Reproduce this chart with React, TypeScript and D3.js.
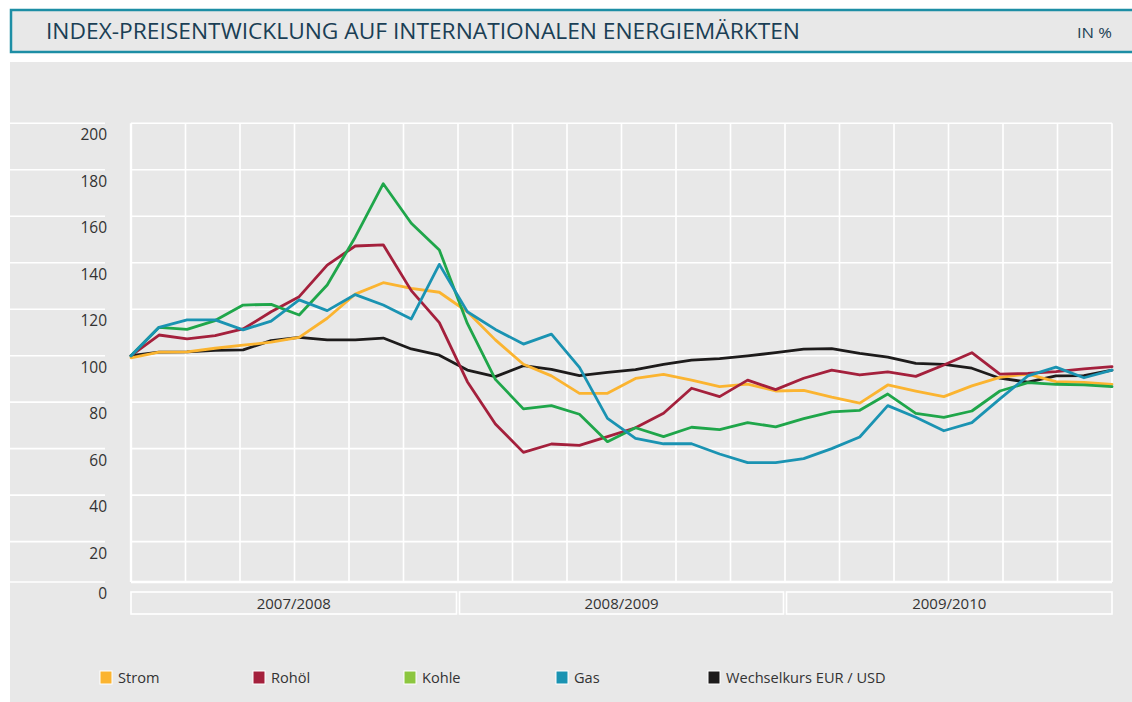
import React from "react";
import * as d3 from "d3";

const title = "INDEX-PREISENTWICKLUNG AUF INTERNATIONALEN ENERGIEMÄRKTEN";
const unit = "IN %";
const years = ["2007/2008", "2008/2009", "2009/2010"];
const yTicks = [0, 20, 40, 60, 80, 100, 120, 140, 160, 180, 200];

const strom = [99.1, 101.5, 101.6, 103.2, 104.5, 105.8, 107.9, 116.1, 126.5, 131.4, 129.0, 127.3, 118.9, 106.8, 96.3, 91.3, 83.8, 83.8, 90.2, 92.0, 89.5, 86.7, 87.8, 84.8, 85.1, 82.2, 79.6, 87.4, 84.8, 82.4, 87.0, 90.7, 92.1, 88.8, 88.5, 87.7];
const rohoel = [100, 108.9, 107.2, 108.6, 111.5, 118.9, 125.4, 139.0, 147.2, 147.7, 128.0, 114.2, 88.8, 70.6, 58.4, 62.0, 61.4, 65.2, 69.0, 75.2, 86.0, 82.4, 89.5, 85.4, 90.3, 93.8, 91.7, 93.0, 91.1, 96.0, 101.3, 92.1, 92.4, 93.1, 94.3, 95.3];
const kohle = [100, 112.2, 111.3, 115.1, 121.8, 122.1, 117.5, 130.4, 151.0, 174.0, 157.0, 145.5, 113.9, 89.8, 77.1, 78.5, 74.8, 63.0, 69.0, 65.2, 69.2, 68.2, 71.2, 69.4, 72.9, 75.8, 76.5, 83.5, 75.2, 73.5, 76.2, 84.8, 88.4, 87.7, 87.4, 86.7];
const gas = [100, 112.2, 115.4, 115.4, 111.1, 114.9, 124.0, 119.4, 126.3, 121.8, 115.8, 139.3, 118.9, 111.3, 105.0, 109.3, 95.0, 73.0, 64.4, 62.1, 62.1, 57.7, 54.0, 54.0, 55.7, 60.0, 65.0, 78.5, 73.5, 67.7, 71.2, 81.4, 91.3, 95.1, 90.5, 93.8];
const wechselkurs = [100, 101.5, 101.6, 102.3, 102.5, 106.5, 107.9, 106.8, 106.8, 107.6, 102.9, 100.2, 93.8, 91.0, 95.7, 94.1, 91.4, 92.8, 94.0, 96.3, 98.1, 98.7, 99.9, 101.3, 102.8, 103.0, 101.0, 99.4, 96.7, 96.3, 94.6, 90.3, 88.6, 91.3, 91.4, 93.8];

const seriesNames = ["Strom", "Rohöl", "Kohle", "Gas", "Wechselkurs EUR / USD"];
const lineColors = ["#fbb430", "#a4203c", "#1fa64a", "#1a93b2", "#1d1b1b"];
const legendColors = ["#fbb430", "#a4203c", "#8cc63f", "#1a93b2", "#1d1b1b"];
const seriesValues = [strom, rohoel, kohle, gas, wechselkurs];
const drawOrder = [4, 0, 1, 2, 3];

const FONT = "'Open Sans', 'Noto Sans', sans-serif";

export default function App() {
  const W = 1132;
  const H = 702;
  const left = 131;
  const right = 1112;
  const top = 123.3;
  const bottom = 582;

  const n = strom.length;
  const x = d3.scaleLinear().domain([0, n - 1]).range([left, right]);
  const y = d3.scaleLinear().domain([0, 20, 200]).range([bottom, 541.6, top]);
  const yearScale = d3.scaleBand<string>().domain(years).range([left, right]);
  const subDivs = 6;
  const gridX = d3.range(years.length * subDivs + 1).map(
    (k) => left + (k * (right - left)) / (years.length * subDivs)
  );

  const line = d3
    .line<number>()
    .x((_, i) => x(i))
    .y((d) => y(d));

  const legendX = [100, 253, 404, 556, 708];

  return (
    <div style={{ position: "absolute", left: 0, top: 0 }}>
      <svg width={W} height={H} style={{ display: "block", background: "#ffffff" }}>
        {/* title box */}
        <rect x={11} y={10} width={W + 10} height={42} fill="#e8e8e8" stroke="#1d8ea5" strokeWidth={2.5} />
        <text
          x={46}
          y={38.5}
          fontFamily={FONT}
          fontSize={21}
          fill="#1b3f55"
          textLength={754}
          lengthAdjust="spacingAndGlyphs"
        >
          {title}
        </text>
        <text x={1112} y={38} textAnchor="end" fontFamily={FONT} fontSize={14} fill="#1b3f55" textLength={35} lengthAdjust="spacingAndGlyphs">
          {unit}
        </text>

        {/* panel */}
        <rect x={10} y={62} width={W - 10} height={H - 62} fill="#e8e8e8" />

        {/* horizontal grid */}
        {yTicks.map((t) => (
          <g key={"h" + t}>
            <line x1={10} x2={105} y1={y(t)} y2={y(t)} stroke="#ffffff" strokeWidth={1.6} />
            <line x1={left} x2={right} y1={y(t)} y2={y(t)} stroke="#ffffff" strokeWidth={t === 0 ? 2.4 : 1.6} />
            <text
              x={107}
              y={y(t) + 17}
              textAnchor="end"
              fontFamily={FONT}
              fontSize={15.5}
              fill="#333333"
            >
              {t}
            </text>
          </g>
        ))}

        {/* vertical grid */}
        {gridX.map((gx, k) => (
          <line
            key={"v" + k}
            x1={gx}
            x2={gx}
            y1={top}
            y2={bottom}
            stroke="#ffffff"
            strokeWidth={k === 0 ? 2.4 : 1.6}
          />
        ))}

        {/* year band */}
        {years.map((yr, i) => {
          const x0 = yearScale(yr)! + (i === 0 ? 0 : 1.5);
          const x1 = yearScale(yr)! + yearScale.bandwidth() - (i === years.length - 1 ? 0 : 1.5);
          return (
            <g key={yr}>
              <rect x={x0} y={592} width={x1 - x0} height={22} fill="#e8e8e8" stroke="#ffffff" strokeWidth={1.6} />
              <text
                x={(x0 + x1) / 2}
                y={608.5}
                textAnchor="middle"
                fontFamily={FONT}
                fontSize={15}
                fill="#333333"
              >
                {yr}
              </text>
            </g>
          );
        })}

        {/* lines */}
        {drawOrder.map((si) => (
          <path
            key={seriesNames[si]}
            d={line(seriesValues[si]) || ""}
            fill="none"
            stroke={lineColors[si]}
            strokeWidth={2.8}
            strokeLinejoin="round"
            strokeLinecap="round"
          />
        ))}

        {/* legend */}
        {seriesNames.map((name, i) => (
          <g key={"lg" + name}>
            <rect x={legendX[i]} y={671} width={12} height={13} fill={legendColors[i]} stroke="#ffffff" strokeWidth={1} />
            <text x={legendX[i] + 18} y={683} fontFamily={FONT} fontSize={14.6} fill="#333333">
              {name}
            </text>
          </g>
        ))}
      </svg>
    </div>
  );
}
